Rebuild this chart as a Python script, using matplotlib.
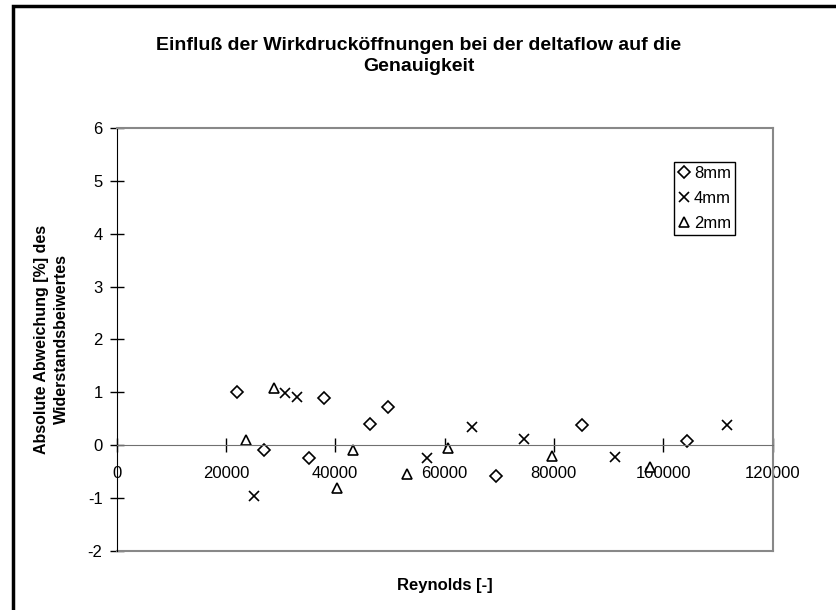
import matplotlib.pyplot as plt
from matplotlib.patches import Rectangle

plt.rcParams['font.family'] = ['Liberation Sans', 'DejaVu Sans']
plt.rcParams['axes.unicode_minus'] = False

re_8mm = [22000, 27000, 35300, 37900, 46400, 49700, 69400, 85200, 104400]
dev_8mm = [1.0, -0.1, -0.25, 0.9, 0.4, 0.73, -0.58, 0.39, 0.07]

re_4mm = [25200, 30900, 33100, 56800, 65100, 74500, 91200, 111700]
dev_4mm = [-0.96, 0.98, 0.92, -0.25, 0.35, 0.12, -0.23, 0.39]

re_2mm = [23600, 28800, 40400, 43300, 53100, 60700, 79700, 97600]
dev_2mm = [0.1, 1.08, -0.82, -0.1, -0.55, -0.05, -0.2, -0.41]

x_ticks = [0, 20000, 40000, 60000, 80000, 100000, 120000]
y_ticks = [-2, -1, 0, 1, 2, 3, 4, 5, 6]

fig = plt.figure(figsize=(8.37, 6.10), dpi=100)
ax = fig.add_axes([0.1392, 0.0972, 0.7838, 0.6925])

ax.plot(re_8mm, dev_8mm, linestyle='none', marker='D', ms=6, mfc='white',
        mec='black', mew=1.2, label='8mm', clip_on=False)
ax.plot(re_4mm, dev_4mm, linestyle='none', marker='x', ms=7.5, mec='black',
        mew=1.2, label='4mm', clip_on=False)
ax.plot(re_2mm, dev_2mm, linestyle='none', marker='^', ms=7, mfc='white',
        mec='black', mew=1.2, label='2mm', clip_on=False)

ax.set_xlim(0, 120000)
ax.set_ylim(-2, 6)
ax.set_xticks(x_ticks)
ax.set_yticks(y_ticks)

# x-Achse schneidet bei 0
ax.spines['bottom'].set_position(('data', 0))
ax.spines['bottom'].set_color('#707070')
ax.spines['left'].set_color('black')
for s in ['top', 'right']:
    ax.spines[s].set_color('#888888')
    ax.spines[s].set_linewidth(1.5)
ax.plot([0, 1], [0, 0], transform=ax.transAxes, color='#888888', lw=1.5,
        clip_on=False)

ax.tick_params(axis='both', direction='inout', length=10, width=1,
               labelsize=12, color='black')
ax.tick_params(axis='x', pad=10)
ax.tick_params(axis='y', pad=5)

fig.text(0.5006, 1 - 56 / 610, 'Einfluß der Wirkdrucköffnungen bei der deltaflow auf die\nGenauigkeit',
         fontsize=14, fontweight='bold', ha='center', va='center', linespacing=1.25)
ax.set_xlabel('Reynolds [-]', fontsize=12, fontweight='bold')
ax.xaxis.set_label_coords(0.5, -0.064)
ax.set_ylabel('Absolute Abweichung [%] des\nWiderstandsbeiwertes', fontsize=11.5,
              fontweight='bold', linespacing=1.4)
ax.yaxis.set_label_coords(-0.072, 0.5)

leg = ax.legend(loc='upper right', bbox_to_anchor=(0.943, 0.92), fontsize=12,
                frameon=True, fancybox=False, edgecolor='black', framealpha=1,
                handlelength=0.7, handletextpad=0.25, labelspacing=0.6,
                borderpad=0.25, borderaxespad=0)
leg.get_frame().set_linewidth(1)

# Rahmen um das ganze Diagramm
fig.add_artist(Rectangle((0.0155, -0.05), 1.2, 0.05 + 0.990, transform=fig.transFigure,
                         fill=False, lw=2.5, ec='black'))

plt.savefig('out.png', dpi=100)
